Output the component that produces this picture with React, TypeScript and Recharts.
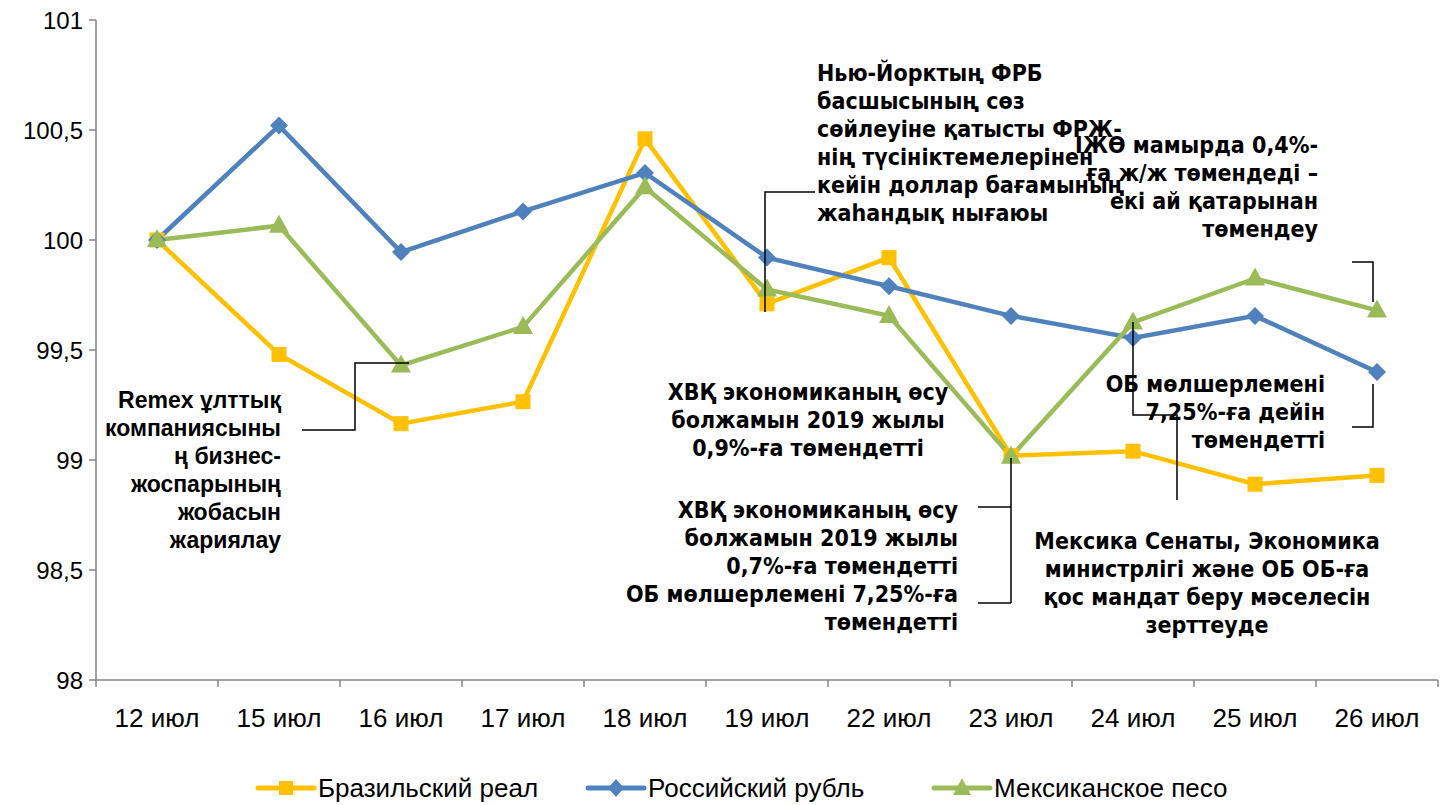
import { LineChart, Line, XAxis, YAxis, Legend } from 'recharts';

const days = ['12 июл', '15 июл', '16 июл', '17 июл', '18 июл', '19 июл', '22 июл', '23 июл', '24 июл', '25 июл', '26 июл'];
const brl = [100, 99.48, 99.165, 99.265, 100.46, 99.71, 99.92, 99.02, 99.04, 98.89, 98.93];
const rub = [100, 100.52, 99.945, 100.13, 100.305, 99.92, 99.79, 99.655, 99.555, 99.655, 99.4];
const mxn = [100, 100.065, 99.43, 99.605, 100.24, 99.775, 99.655, 99.015, 99.625, 99.825, 99.68];
const yTicks = [98, 98.5, 99, 99.5, 100, 100.5, 101];

const seriesNames = ['Бразильский реал', 'Российский рубль', 'Мексиканское песо'];
const colors = ['#FFC000', '#4F81BD', '#9BBB59'];

const data = days.map((d, i) => ({ day: d, brl: brl[i], rub: rub[i], mxn: mxn[i] }));

const W = 1448;
const H = 805;
const LEFT = 96;
const RIGHT = 1438;
const TOP = 20;
const STEP = (RIGHT - LEFT) / days.length;

const narrow = "'Liberation Sans Narrow', 'Arial Narrow', 'DejaVu Sans Condensed', sans-serif";
const arial = "'Liberation Sans', Arial, sans-serif";

const Square = (props: any) => {
  const { cx, cy } = props;
  if (cx == null) return null;
  return <rect x={cx - 7.5} y={cy - 7.5} width={15} height={15} fill={colors[0]} />;
};
const Diamond = (props: any) => {
  const { cx, cy } = props;
  if (cx == null) return null;
  return <polygon points={`${cx},${cy - 9} ${cx + 9},${cy} ${cx},${cy + 9} ${cx - 9},${cy}`} fill={colors[1]} />;
};
const Triangle = (props: any) => {
  const { cx, cy } = props;
  if (cx == null) return null;
  return <polygon points={`${cx},${cy - 11} ${cx + 10},${cy + 7} ${cx - 10},${cy + 7}`} fill={colors[2]} />;
};

const XTick = (props: any) => {
  const { x, y, payload, index } = props;
  return (
    <g>
      <line x1={x - STEP / 2} x2={x - STEP / 2} y1={y} y2={y + 7} stroke="#868686" strokeWidth={1.5} />
      {index === days.length - 1 && (
        <line x1={x + STEP / 2} x2={x + STEP / 2} y1={y} y2={y + 7} stroke="#868686" strokeWidth={1.5} />
      )}
      <text x={x} y={y + 47} textAnchor="middle" fontFamily={arial} fontSize={26} fill="#000">
        {payload.value}
      </text>
    </g>
  );
};

const LegendBox = () => {
  const items = [
    { x: 258, text: seriesNames[0], mark: 'sq' },
    { x: 588, text: seriesNames[1], mark: 'di' },
    { x: 934, text: seriesNames[2], mark: 'tr' },
  ];
  return (
    <svg width={W} height={40} style={{ display: 'block' }}>
      {items.map((it, i) => {
        const cx = it.x + 28;
        const cy = 18;
        return (
          <g key={i}>
            <line x1={it.x} x2={it.x + 56} y1={cy} y2={cy} stroke={colors[i]} strokeWidth={5} strokeLinecap="round" />
            {it.mark === 'sq' && <rect x={cx - 7} y={cy - 7} width={14} height={14} fill={colors[i]} />}
            {it.mark === 'di' && (
              <polygon points={`${cx},${cy - 9} ${cx + 8},${cy} ${cx},${cy + 9} ${cx - 8},${cy}`} fill={colors[i]} />
            )}
            {it.mark === 'tr' && (
              <polygon points={`${cx},${cy - 10} ${cx + 9},${cy + 7} ${cx - 9},${cy + 7}`} fill={colors[i]} />
            )}
            <text x={it.x + 60} y={cy + 9} fontFamily={arial} fontSize={26} fill="#000">
              {it.text}
            </text>
          </g>
        );
      })}
    </svg>
  );
};

// callout texts and leader lines
const notes = [
  {
    x: 281, y: 408, anchor: 'end', font: arial, size: 23,
    lines: ['Remex ұлттық', 'компаниясыны', 'ң бизнес-', 'жоспарының', 'жобасын', 'жариялау'],
  },
  {
    x: 817, y: 81, anchor: 'start', font: narrow, size: 23,
    lines: ['Нью-Йорктың ФРБ', 'басшысының сөз', 'сөйлеуіне қатысты ФРЖ-', 'нің түсініктемелерінен', 'кейін доллар бағамының', 'жаһандық нығаюы'],
  },
  {
    x: 1318, y: 153, anchor: 'end', font: narrow, size: 23,
    lines: ['ІЖӨ мамырда 0,4%-', 'ға ж/ж төмендеді –', 'екі ай қатарынан', 'төмендеу'],
  },
  {
    x: 808, y: 400, anchor: 'middle', font: narrow, size: 23,
    lines: ['ХВҚ экономиканың өсу', 'болжамын 2019 жылы', '0,9%-ға төмендетті'],
  },
  {
    x: 958, y: 518, anchor: 'end', font: narrow, size: 23,
    lines: ['ХВҚ экономиканың өсу', 'болжамын 2019 жылы', '0,7%-ға төмендетті', 'ОБ мөлшерлемені 7,25%-ға', 'төмендетті'],
  },
  {
    x: 1325, y: 392, anchor: 'end', font: narrow, size: 23,
    lines: ['ОБ мөлшерлемені', '7,25%-ға дейін', 'төмендетті'],
  },
  {
    x: 1207, y: 549, anchor: 'middle', font: narrow, size: 23,
    lines: ['Мексика Сенаты, Экономика', 'министрлігі және ОБ ОБ-ға', 'қос мандат беру мәселесін', 'зерттеуде'],
  },
];

const leaders = [
  '302,430 355,430 355,363 409,363',
  '815,192 765,192 765,312',
  '1352,262 1373,262 1373,302',
  '1373,384 1373,427 1352,427',
  '1133,322 1133,415 1177,415 1177,500',
  '1011,458 1011,603',
  '978,507 1011,507',
  '978,603 1011,603',
];

const Overlay = () => (
  <svg width={W} height={H} style={{ position: 'absolute', left: 0, top: 0, pointerEvents: 'none' }}>
    {leaders.map((p, i) => (
      <polyline key={i} points={p} fill="none" stroke="#000" strokeWidth={1.5} />
    ))}
    {notes.map((n, i) => (
      <text key={i} x={n.x} y={n.y} textAnchor={n.anchor as any} fontFamily={n.font} fontSize={n.size} fontWeight="bold" fill="#000">
        {n.lines.map((l, j) => (
          <tspan key={j} x={n.x} dy={j === 0 ? 0 : 28}>
            {l}
          </tspan>
        ))}
      </text>
    ))}
  </svg>
);

export default function App() {
  return (
    <div style={{ position: 'absolute', left: 0, top: 0, width: W, height: H, background: '#fff' }}>
      <LineChart
        width={W}
        height={H}
        data={data}
        margin={{ top: TOP, right: W - RIGHT, left: 0, bottom: 0 }}
      >
        <XAxis
          dataKey="day"
          padding={{ left: STEP / 2, right: STEP / 2 }}
          axisLine={{ stroke: '#868686', strokeWidth: 1.5 }}
          tickLine={false}
          tickSize={0}
          tickMargin={0}
          height={85}
          interval={0}
          tick={<XTick />}
        />
        <YAxis
          domain={[98, 101]}
          ticks={yTicks}
          width={LEFT}
          axisLine={{ stroke: '#868686', strokeWidth: 1.5 }}
          tickLine={{ stroke: '#868686', strokeWidth: 1.5 }}
          tickSize={7}
          tickMargin={6}
          tick={{ fill: '#000', fontSize: 24, fontFamily: arial }}
          tickFormatter={(v: number) => String(v).replace('.', ',')}
        />
        <Legend
          verticalAlign="bottom"
          content={() => <LegendBox />}
          wrapperStyle={{ position: 'absolute', left: 0, top: 770, width: W }}
        />
        <Line dataKey="brl" name={seriesNames[0]} stroke={colors[0]} strokeWidth={4.5} dot={<Square />} isAnimationActive={false} />
        <Line dataKey="rub" name={seriesNames[1]} stroke={colors[1]} strokeWidth={4.5} dot={<Diamond />} isAnimationActive={false} />
        <Line dataKey="mxn" name={seriesNames[2]} stroke={colors[2]} strokeWidth={4.5} dot={<Triangle />} isAnimationActive={false} />
      </LineChart>
      <Overlay />
    </div>
  );
}
